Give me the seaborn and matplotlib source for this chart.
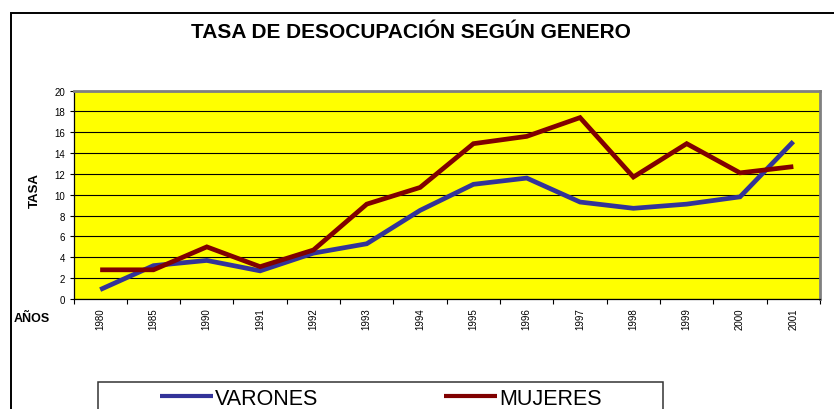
import numpy as np
import pandas as pd
import seaborn as sns
import matplotlib.pyplot as plt
from matplotlib.patches import Rectangle

# datos
anios = ["1980", "1985", "1990", "1991", "1992", "1993", "1994",
         "1995", "1996", "1997", "1998", "1999", "2000", "2001"]
varones = [0.9, 3.2, 3.7, 2.7, 4.4, 5.3, 8.5, 11.0, 11.6, 9.3, 8.7, 9.1, 9.8, 15.1]
mujeres = [2.8, 2.8, 5.0, 3.1, 4.7, 9.1, 10.7, 14.9, 15.6, 17.4, 11.7, 14.9, 12.1, 12.7]
series = ["VARONES", "MUJERES"]
colores = ["#333399", "#800000"]

df = pd.DataFrame({
    "pos": list(range(len(anios))) * 2,
    "tasa": varones + mujeres,
    "genero": [series[0]] * len(anios) + [series[1]] * len(anios),
})

sns.set_style("white")
plt.rcParams["font.family"] = ["Liberation Sans", "DejaVu Sans"]
plt.rcParams.update({"text.color": "black", "axes.labelcolor": "black",
                     "xtick.color": "black", "ytick.color": "black"})

W, H = 834, 410
fig = plt.figure(figsize=(W / 100, H / 100), dpi=100)
ax = fig.add_axes([73.5 / W, 1 - 300 / H, (820 - 73.5) / W, (300 - 91.5) / H])
ax.set_facecolor("#FFFF00")

sns.lineplot(data=df, x="pos", y="tasa", hue="genero", hue_order=series,
             palette=colores, linewidth=3.4, sort=False, ax=ax,
             solid_capstyle="butt", solid_joinstyle="miter")

ax.set_xlim(-0.5, len(anios) - 0.5)
ax.set_ylim(0, 20)
ax.set_yticks(np.arange(0, 21, 2))
ax.yaxis.grid(True, color="black", linewidth=0.8)
ax.xaxis.grid(False)
ax.set_axisbelow(True)
ax.tick_params(axis="y", left=True, length=3, width=0.8, pad=3, labelsize=7)

ax.set_xticks(range(len(anios)))
ax.set_xticklabels(anios, rotation=90, fontsize=7)
ax.set_xticks(np.arange(-0.5, len(anios), 1), minor=True)
ax.tick_params(axis="x", which="major", length=0, pad=6)
ax.tick_params(axis="x", which="minor", bottom=True, length=3.5, width=0.8)

for s in ["left", "bottom"]:
    ax.spines[s].set_color("black")
    ax.spines[s].set_linewidth(0.9)
for s in ["top", "right"]:
    ax.spines[s].set_color("#808080")
    ax.spines[s].set_linewidth(2)

ax.set_xlabel("")
ax.set_ylabel("")
fig.text(35 / W, 1 - 191 / H, "TASA", rotation=90, fontsize=9.5, fontweight="bold",
         ha="center", va="center")
fig.text(32 / W, 1 - 319 / H, "AÑOS", fontsize=9, fontweight="bold",
         ha="center", va="center")
fig.text(411 / W, 1 - 33 / H, "TASA DE DESOCUPACIÓN SEGÚN GENERO", fontsize=15,
         fontweight="bold", ha="center", va="center")

handles, labels = ax.get_legend_handles_labels()
ax.get_legend().remove()
for h in handles:
    h.set_linewidth(3)
    h.set_solid_capstyle("butt")
fig.legend(handles, labels, loc="center left", bbox_to_anchor=(160 / W, 1 - 399.5 / H),
           ncol=2, frameon=False, fontsize=15.5, handlelength=2.47, handletextpad=0.1,
           columnspacing=5.8, borderpad=0, borderaxespad=0, labelcolor="black")

# marcos
fig.patches.append(Rectangle((98 / W, -0.1), (663 - 98) / W, (1 - 383 / H) + 0.1,
                             transform=fig.transFigure, fill=False,
                             edgecolor="#333333", linewidth=1.1))
fig.patches.append(Rectangle((11 / W, -0.1), 1.2, (1 - 14 / H) + 0.1,
                             transform=fig.transFigure, fill=False,
                             edgecolor="black", linewidth=1.4))

fig.savefig("out.png", dpi=100)
